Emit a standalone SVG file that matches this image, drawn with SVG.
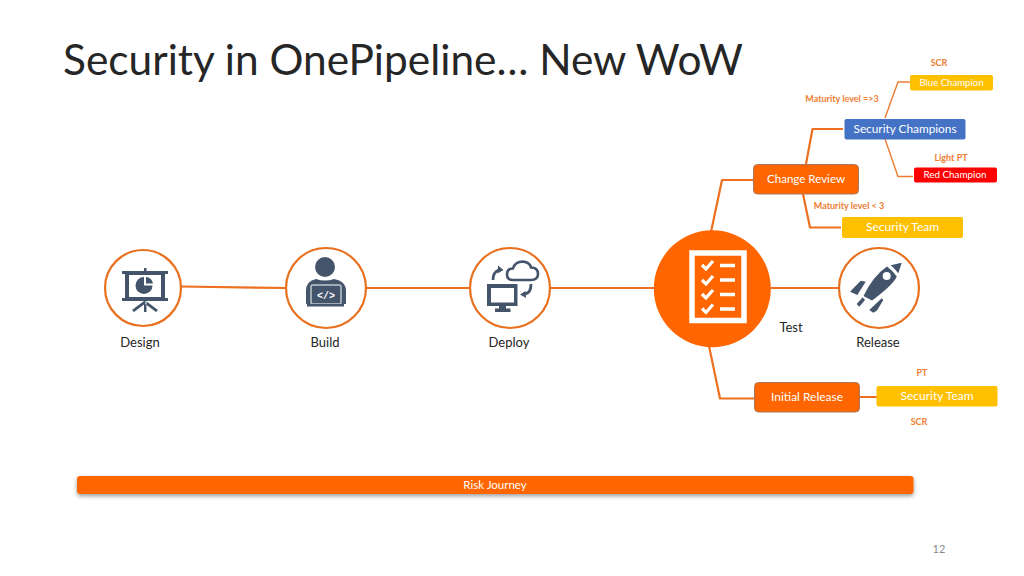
<svg xmlns="http://www.w3.org/2000/svg" width="1024" height="576" viewBox="0 0 1024 576">
<defs>
<filter id="sh" x="-5%" y="-30%" width="110%" height="170%"><feDropShadow dx="0" dy="2" stdDeviation="2" flood-color="#000" flood-opacity="0.4"/></filter>
</defs>
<style>
text{font-family:"Lato","Liberation Sans",sans-serif}
.ring{fill:#fff;stroke:#e9701f;stroke-width:2.2}
.lbl{font-size:13px;fill:#262626;text-anchor:middle}
.wht{fill:#fff;text-anchor:middle}
.or{font-size:9px;font-weight:700;fill:#ed7d31;text-anchor:middle}
.ic{fill:#44546a}
.icl{fill:none;stroke:#44546a}
.ln{fill:none;stroke:#ed7020;stroke-width:2.200;stroke-linejoin:round}
.thin{fill:none;stroke:#ed7d31;stroke-width:1.400}
.cr{fill:#ff6600;stroke:#a9785c;stroke-width:1}
</style>
<rect width="1024" height="576" fill="#fff"/>
<text id="title" x="63" y="75" font-size="43" fill="#262626" textLength="680" lengthAdjust="spacingAndGlyphs">Security in OnePipeline… New WoW</text>

<g id="connectors">
<path class="ln" d="M181 286.500L286 288M366 288H471M551 288H655M770 288H839"/>
<path class="ln" d="M711 232L722 180H754M709 346L720 398.500H754"/>
<path class="ln" d="M806 164L812.500 129H843M803 194L810 227.500H841M859 397H877"/>
<path class="thin" d="M885 118L898 82H910M885 139L898 176.500H913"/>
</g>

<g id="design">
<circle class="ring" cx="143" cy="288" r="38"/>
<g class="ic">
<path d="M122 271H168V274H165V298H168V301H122V298H125V274H122ZM129 275V297H161V275Z" fill-rule="evenodd"/>
<rect x="144" y="268" width="2.500" height="4"/>
<path d="M144 301h2.500v11h-2.500zM144 301l2 2L134 312l-2-2zM146 301l-2 2L156 312l2-2z"/>
<path d="M144 277a8.500 8.500 0 1 0 8.500 8.500H144Z"/><path d="M146 277a7.500 7.500 0 0 1 7 6.500h-7Z"/>
</g>
</g>

<g id="build">
<circle class="ring" cx="326" cy="288" r="40"/>
<g class="ic">
<circle cx="325" cy="267" r="10"/>
<path d="M306 304V291q0-10 10-12q9 3 18 0q12 2 12 12V304Z"/>
</g>
<rect x="311" y="285" width="30" height="19" rx="1" fill="#44546a" stroke="#fff" stroke-width="1"/>
<rect x="307" y="304" width="37" height="2.500" fill="#44546a"/>
<text x="326" y="299" font-size="10" fill="#fff" text-anchor="middle" style="font-family:'Liberation Mono',monospace;font-weight:700">&lt;/&gt;</text>
</g>

<g id="deploy">
<circle class="ring" cx="510" cy="288" r="40"/>
<g class="ic">
<path d="M487 284H517.500V306H506V308.500H510.500V312H495V308.500H499V306H487ZM491 288V302.500H514V288Z" fill-rule="evenodd"/>
</g>
<path class="icl" d="M513 280q-6 0-6-5.500q0-6 6-6q2-7 10-7q7 1 8 6q7 0 7 6.500q0 6-7 6Z" stroke-width="2.600"/>
<path class="icl" d="M493 280q0-8 6-10" stroke-width="2.800"/>
<path class="ic" d="M498 265.500l5.500 4.500l-6 3.500z"/>
<path class="icl" d="M531 284q0 9-6 10" stroke-width="2.800"/>
<path class="ic" d="M526 298l-6-3.500l5.500-3.500z"/>
</g>

<g id="test">
<circle cx="712.300" cy="288.700" r="58.500" fill="#ff6600"/>
<rect x="692" y="253" width="52" height="67.500" fill="none" stroke="#fff" stroke-width="5.500"/>
<g fill="none" stroke="#fff">
<path stroke-width="3.200" d="M702 265l4 4l7-8M702 280l4 4l7-8M702 294l4 4l7-8M702 308.500l4 4l7-8"/>
<path stroke-width="3.400" d="M720 265.500h15M720 280h15M720 294.500h15M720 309h15"/>
</g>
<text class="lbl" x="791" y="332">Test</text>
</g>

<g id="release">
<circle class="ring" cx="879" cy="288" r="40"/>
<g class="ic">
<path d="M890.700 265.300L901.700 262.700L898.300 273.300Q895 269 890.700 265.300Z"/>
<path d="M887 266.500Q892 270 896.800 276.500Q893 285 872 300.500L863.500 296Q873 276 887 266.500Z"/>
<path d="M850 291.700L860.700 280.700L865.700 281.700L857.300 295Z"/>
<path d="M869.300 310L881.700 298.300L883.300 300L877 310.500L873.300 312.700Z"/>
<path d="M856.700 304L862.700 297.300L865 300L859.300 306.700Z"/>
</g>
<circle cx="886.700" cy="276" r="4" fill="#fff"/>
</g>

<g id="change-review">
<rect class="cr" x="753.500" y="164.500" width="105" height="29.500" rx="4"/>
<text class="wht" x="806" y="183" font-size="12" textLength="78" lengthAdjust="spacingAndGlyphs">Change Review</text>
</g>
<g id="security-champions">
<rect x="844.500" y="119" width="121" height="20.500" rx="2" fill="#4472c4"/>
<text class="wht" x="905" y="133" font-size="12" textLength="103" lengthAdjust="spacingAndGlyphs">Security Champions</text>
</g>
<g id="blue-champion">
<rect x="910" y="75" width="83" height="15.500" rx="2" fill="#ffc000"/>
<text class="wht" x="951.500" y="86" font-size="9.500" textLength="64" lengthAdjust="spacingAndGlyphs">Blue Champion</text>
</g>
<g id="red-champion">
<rect x="914" y="167.500" width="83" height="15" rx="2" fill="#ff0000"/>
<text class="wht" x="955" y="178" font-size="9.500" textLength="63" lengthAdjust="spacingAndGlyphs">Red Champion</text>
</g>
<g id="security-team-top">
<rect x="842" y="217" width="121" height="21" rx="2" fill="#ffc000"/>
<text class="wht" x="902.500" y="231" font-size="12" textLength="73" lengthAdjust="spacingAndGlyphs">Security Team</text>
</g>
<g id="initial-release">
<rect class="cr" x="754.500" y="382.500" width="105" height="29.500" rx="4"/>
<text class="wht" x="807" y="401" font-size="12" textLength="72" lengthAdjust="spacingAndGlyphs">Initial Release</text>
</g>
<g id="security-team-bottom">
<rect x="876.500" y="386" width="121" height="20.500" rx="2" fill="#ffc000"/>
<text class="wht" x="937" y="400" font-size="12" textLength="73" lengthAdjust="spacingAndGlyphs">Security Team</text>
</g>
<g id="risk-journey">
<rect x="77" y="476" width="836.500" height="18" rx="3" fill="#ff6600" filter="url(#sh)"/>
<text class="wht" x="495" y="489" font-size="11.500">Risk Journey</text>
</g>

<g id="labels">
<text class="lbl" x="140" y="347">Design</text>
<text class="lbl" x="325" y="347">Build</text>
<text class="lbl" x="509" y="347">Deploy</text>
<text class="lbl" x="878" y="347">Release</text>
<text class="or" x="939" y="66">SCR</text>
<text class="or" x="842" y="102">Maturity level =&gt;3</text>
<text class="or" x="951" y="161">Light PT</text>
<text class="or" x="849" y="209">Maturity level &lt; 3</text>
<text class="or" x="922" y="376">PT</text>
<text class="or" x="919" y="425">SCR</text>
<text x="939" y="553" font-size="11" fill="#8a8a8a" text-anchor="middle">12</text>
</g>
</svg>
